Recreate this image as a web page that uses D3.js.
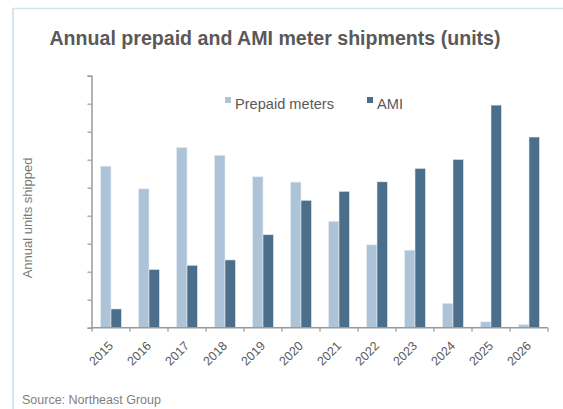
<!DOCTYPE html>
<html>
<head>
<meta charset="utf-8">
<script src="https://cdn.jsdelivr.net/npm/d3@7"></script>
<style>
  body { margin: 0; background: #fff; }
  svg text { font-family: "Liberation Sans", Arial, sans-serif; }
</style>
</head>
<body>
<svg id="chart" width="563" height="409"></svg>
<script>
// data (one unit = one unlabeled tick step)
const years = ['2015','2016','2017','2018','2019','2020','2021','2022','2023','2024','2025','2026'];
const seriesNames = ['Prepaid meters', 'AMI'];
const prepaid = [5.77, 4.96, 6.44, 6.16, 5.39, 5.20, 3.80, 2.96, 2.77, 0.87, 0.21, 0.11];
const ami = [0.67, 2.08, 2.23, 2.42, 3.32, 4.55, 4.87, 5.21, 5.69, 6.01, 7.95, 6.81];
const yTicks = [0,1,2,3,4,5,6,7,8,9];

const colors = { 'Prepaid meters': '#adc4d8', 'AMI': '#4b6f8a' };

const svg = d3.select('#chart');

// frame lines (top and left)
svg.append('line').attr('x1', 13).attr('x2', 563).attr('y1', 8.5).attr('y2', 8.5)
    .attr('stroke', '#d6e4ee').attr('stroke-width', 1.5);
svg.append('line').attr('x1', 13).attr('x2', 13).attr('y1', 8).attr('y2', 409)
    .attr('stroke', '#d6e4ee').attr('stroke-width', 2);

// title
svg.append('text')
    .attr('x', 275).attr('y', 45)
    .attr('text-anchor', 'middle')
    .attr('font-size', 19.6).attr('font-weight', 'bold')
    .attr('fill', '#595959')
    .text('Annual prepaid and AMI meter shipments (units)');

// scales
const x0 = d3.scaleBand()
    .domain(years)
    .range([92, 548])
    .paddingInner(0.45)
    .paddingOuter(0.225);

const x1 = d3.scaleBand()
    .domain(seriesNames)
    .range([0, x0.bandwidth()]);

const y = d3.scaleLinear()
    .domain([0, 9])
    .range([327.7, 75.7]);

const rows = years.map((yr, i) => ({
    year: yr,
    values: [
        { key: 'Prepaid meters', value: prepaid[i] },
        { key: 'AMI', value: ami[i] }
    ]
}));

// bars
svg.append('g')
    .selectAll('g')
    .data(rows)
    .join('g')
    .attr('transform', d => `translate(${x0(d.year)},0)`)
    .selectAll('rect')
    .data(d => d.values)
    .join('rect')
    .attr('x', d => x1(d.key))
    .attr('width', x1.bandwidth())
    .attr('y', d => y(d.value))
    .attr('height', d => y(0) - y(d.value))
    .attr('fill', d => colors[d.key])
    .attr('stroke', '#e4ecf2')
    .attr('stroke-width', 0.6);

// y axis, ticks without labels
const yAxis = d3.axisLeft(y)
    .tickValues(yTicks)
    .tickSize(4)
    .tickFormat('');
const yg = svg.append('g')
    .attr('transform', 'translate(91.5,0)')
    .call(yAxis);
yg.select('.domain').attr('stroke', '#9a9a9a').attr('stroke-width', 1.5);
yg.selectAll('.tick line').attr('stroke', '#9a9a9a').attr('stroke-width', 1.2);

// x axis: line plus ticks at category boundaries
const xg = svg.append('g');
xg.append('line')
    .attr('x1', 91).attr('x2', 548)
    .attr('y1', y(0)).attr('y2', y(0))
    .attr('stroke', '#9a9a9a').attr('stroke-width', 1.5);
const bounds = years.map(d => x0(d) + x0.bandwidth() / 2 - x0.step() / 2)
    .concat([x0(years[years.length - 1]) + x0.bandwidth() / 2 + x0.step() / 2]);
xg.selectAll('line.tk')
    .data(bounds)
    .join('line')
    .attr('class', 'tk')
    .attr('x1', d => d).attr('x2', d => d)
    .attr('y1', y(0)).attr('y2', y(0) + 4)
    .attr('stroke', '#9a9a9a').attr('stroke-width', 1.2);

xg.selectAll('text')
    .data(years)
    .join('text')
    .attr('transform', d => `translate(${x0(d) + x0.bandwidth() / 2 + 3},${y(0) + 19}) rotate(-45)`)
    .attr('text-anchor', 'end')
    .attr('font-size', 12.5)
    .attr('fill', '#595959')
    .text(d => d);

// legend
const legendX = [225, 367];
const legend = svg.append('g')
    .selectAll('g')
    .data(seriesNames)
    .join('g')
    .attr('transform', (d, i) => `translate(${legendX[i]},97)`);
legend.append('rect')
    .attr('width', 6).attr('height', 6)
    .attr('fill', d => colors[d]);
legend.append('text')
    .attr('x', 10).attr('y', 12)
    .attr('font-size', 14.6)
    .attr('fill', '#595959')
    .text(d => d);

// y axis title
svg.append('text')
    .attr('transform', 'translate(32,218) rotate(-90)')
    .attr('text-anchor', 'middle')
    .attr('font-size', 13)
    .attr('fill', '#7a7a7a')
    .text('Annual units shipped');

// source
svg.append('text')
    .attr('x', 22).attr('y', 404)
    .attr('font-size', 12.5)
    .attr('fill', '#7f7f7f')
    .text('Source: Northeast Group');
</script>
</body>
</html>
